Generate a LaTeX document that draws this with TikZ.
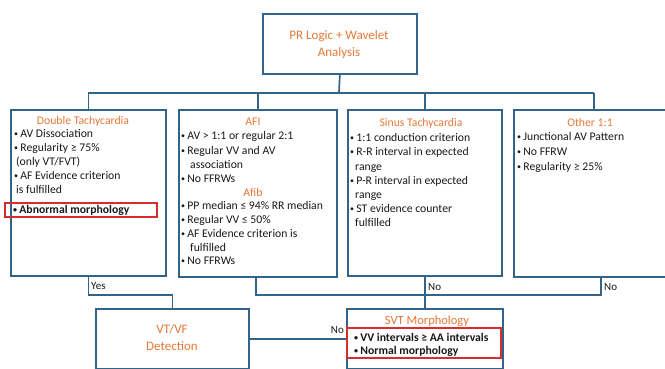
\documentclass[tikz,border=0pt]{standalone}
\usepackage{fontspec}
\setmainfont{Carlito}
\definecolor{bx}{RGB}{50,100,135}
\definecolor{orng}{RGB}{230,120,55}
\definecolor{rd}{RGB}{215,45,45}
\definecolor{tx}{RGB}{25,25,25}
\newcommand{\bul}{\raisebox{0.6pt}{\fontsize{8}{8}\selectfont •}\hspace{2.2pt}}
\begin{document}
\begin{tikzpicture}[x=1pt,y=-1pt,
 box/.style={draw=bx,line width=1.7pt,fill=white,anchor=north west,inner sep=0pt},
 ttl/.style={text=orng,font=\fontsize{11.7}{14}\selectfont,anchor=base,inner sep=0pt},
 itm/.style={text=tx,font=\fontsize{11.7}{14}\selectfont,anchor=base west,inner sep=0pt},
 bitm/.style={itm,font=\fontsize{11.7}{14}\selectfont\bfseries},
 lbl/.style={text=tx,font=\fontsize{11}{12}\selectfont,inner sep=0pt},
 wire/.style={draw=bx,line width=1.7pt},
 redbox/.style={draw=rd,line width=1.7pt,anchor=north west,inner sep=0pt}]
\useasboundingbox (0,0) rectangle (665,368);
\clip (0,0) rectangle (665,368);
\fill[white] (0,0) rectangle (665,368);

% boxes
\node[box,minimum width=154pt,minimum height=60pt] (top) at (262,13) {};
\node[box,minimum width=155pt,minimum height=166pt] (dt) at (10,109) {};
\node[box,minimum width=158pt,minimum height=167pt] (afi) at (178,109) {};
\node[box,minimum width=154pt,minimum height=166pt] (sin) at (347,109) {};
\node[box,minimum width=160pt,minimum height=167pt] (oth) at (513,109) {};
\node[box,minimum width=153pt,minimum height=60pt] (vt) at (95,308) {};
\node[box,minimum width=156pt,minimum height=60pt] (svt) at (346,308) {};

% titles
\node[ttl,font=\fontsize{13}{14}\selectfont] (t0a) at (339,39) {PR Logic + Wavelet};
\node[ttl,font=\fontsize{13}{14}\selectfont] (t0b) at (339,56) {Analysis};
\node[ttl] (t1) at (83,124) {Double Tachycardia};
\node[ttl] (t2) at (253,125) {AFI};
\node[ttl] (t2b) at (253,196) {Afib};
\node[ttl] (t3) at (421,126) {Sinus Tachycardia};
\node[ttl] (t4) at (590,126) {Other 1:1};
\node[ttl,font=\fontsize{13}{14}\selectfont] (t5a) at (172,333) {VT/VF};
\node[ttl,font=\fontsize{13}{14}\selectfont] (t5b) at (172,350) {Detection};
\node[ttl,font=\fontsize{12.5}{14}\selectfont] (t6) at (427,324) {SVT Morphology};

% box 1
\node[itm] (d1) at (14,137) {\bul AV Dissociation};
\node[itm] (d2) at (14,151) {\bul Regularity ≥ 75\%};
\node[itm] (d3) at (16,165) {(only VT/FVT)};
\node[itm] (d4) at (14,179) {\bul AF Evidence criterion};
\node[itm] (d5) at (16,193) {is fulfilled};
\node[redbox,minimum width=152pt,minimum height=14pt] (rb1) at (4,202) {};
\node[bitm] (d6) at (13,213) {\bul Abnormal morphology};

% box 2
\node[itm] (a1) at (181,139) {\bul AV > 1:1 or regular 2:1};
\node[itm] (a2) at (181,154) {\bul Regular VV and AV};
\node[itm] (a3) at (190,168) {association};
\node[itm] (a4) at (181,182) {\bul No FFRWs};
\node[itm] (a5) at (181,209) {\bul PP median ≤ 94\% RR median};
\node[itm] (a6) at (181,223) {\bul Regular VV ≤ 50\%};
\node[itm] (a7) at (181,237) {\bul AF Evidence criterion is};
\node[itm] (a8) at (190,251) {fulfilled};
\node[itm] (a9) at (181,264) {\bul No FFRWs};

% box 3
\node[itm] (s1) at (350,141) {\bul 1:1 conduction criterion};
\node[itm] (s2) at (350,155) {\bul R-R interval in expected};
\node[itm] (s3) at (355,170) {range};
\node[itm] (s4) at (350,184) {\bul P-R interval in expected};
\node[itm] (s5) at (355,198) {range};
\node[itm] (s6) at (350,212) {\bul ST evidence counter};
\node[itm] (s7) at (355,226) {fulfilled};

% box 4
\node[itm] (o1) at (517,140) {\bul Junctional AV Pattern};
\node[itm] (o2) at (517,155) {\bul No FFRW};
\node[itm] (o3) at (517,170) {\bul Regularity ≥ 25\%};

% SVT box
\node[redbox,minimum width=154pt,minimum height=30pt] (rb2) at (346,327) {};
\node[bitm] (v1) at (354,341) {\bul VV intervals ≥ AA intervals};
\node[bitm] (v2) at (354,354) {\bul Normal morphology};

% connectors
\coordinate (bus) at (339,93);
\coordinate (yb) at (339,295);
\draw[wire] (top.south) -- (bus);
\draw[wire] (dt.north |- bus) -- (oth.north |- bus);
\draw[wire] (dt.north |- bus) -- (dt.north);
\draw[wire] (afi.north |- bus) -- (afi.north);
\draw[wire] (sin.north |- bus) -- (sin.north);
\draw[wire] (oth.north |- bus) -- (oth.north);

\draw[wire] (dt.south) -- (dt.south |- yb) -| (vt.north);
\draw[wire] ([xshift=-2pt]afi.south) -- ([xshift=-2pt]afi.south |- yb) -- ([xshift=7pt]oth.south |- yb) -- ([xshift=7pt]oth.south);
\draw[wire] (sin.south) -- (svt.north);
\draw[wire] (vt.east) -- (svt.west);

% labels
\node[lbl,anchor=base west] (yes) at (91,289) {Yes};
\node[lbl,anchor=base west] (no1) at (428,290) {No};
\node[lbl,anchor=base west] (no2) at (604,290) {No};
\node[lbl,anchor=base east] (no3) at (344,333) {No};
\end{tikzpicture}
\end{document}
